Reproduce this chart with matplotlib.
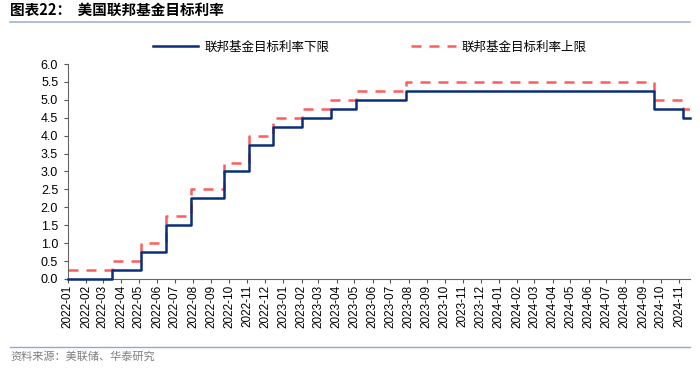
import matplotlib
matplotlib.use("Agg")
import matplotlib.pyplot as plt
import matplotlib.dates as mdates
import pandas as pd

plt.rcParams['font.family'] = ['Liberation Sans', 'Noto Sans CJK SC', 'DejaVu Sans']
CJK = ['Noto Sans CJK SC', 'DejaVu Sans']

# dates when the Fed changed the target range, and the range after each change
change_dates = ['2022-01-01', '2022-03-17', '2022-05-05', '2022-06-16', '2022-07-28',
                '2022-09-22', '2022-11-03', '2022-12-15', '2023-02-02', '2023-03-23',
                '2023-05-04', '2023-07-27', '2024-09-19', '2024-11-08']
lower = [0.00, 0.25, 0.75, 1.50, 2.25, 3.00, 3.75, 4.25, 4.50, 4.75, 5.00, 5.25, 4.75, 4.50]
upper = [0.25, 0.50, 1.00, 1.75, 2.50, 3.25, 4.00, 4.50, 4.75, 5.00, 5.25, 5.50, 5.00, 4.75]
end_date = '2024-11-20'

label_lower = '联邦基金目标利率下限'
label_upper = '联邦基金目标利率上限'

dates = pd.to_datetime(change_dates + [end_date])
lo = lower + [lower[-1]]
up = upper + [upper[-1]]

fig = plt.figure(figsize=(7, 3.68), dpi=100)
ax = fig.add_axes([0.097, 0.242, 0.889, 0.584])

l1, = ax.plot(dates, lo, drawstyle='steps-post', color='#0b2e7a', lw=1.8,
              label=label_lower, clip_on=False, zorder=3)
l2, = ax.plot(dates, up, drawstyle='steps-post', color='#ff5c5c', lw=1.8,
              dashes=(4, 3.2), label=label_upper, zorder=2)

ax.set_ylim(0, 6)
ax.set_yticks([i * 0.5 for i in range(13)])
ax.set_yticklabels([f'{i * 0.5:.1f}' for i in range(13)], fontsize=9)
ax.set_xlim(dates[0], dates[-1])
months = pd.date_range('2022-01-01', '2024-11-01', freq='MS')
ax.set_xticks(months)
ax.xaxis.set_major_formatter(mdates.DateFormatter('%Y-%m'))
ax.tick_params(axis='x', labelrotation=90, labelsize=8.5, length=3, pad=1, color='#555555')
ax.tick_params(axis='y', length=3, pad=4, color='#555555')
for s in ['top', 'right']:
    ax.spines[s].set_visible(False)
for s in ['left', 'bottom']:
    ax.spines[s].set_color('#666666')
    ax.spines[s].set_linewidth(0.8)

fig.legend(handles=[l1, l2], loc='center', bbox_to_anchor=(370 / 700, 1 - 47 / 368),
           ncol=2, frameon=False, handlelength=3.6, columnspacing=6.5, handletextpad=0.5,
           prop={'family': CJK, 'size': 9})

fig.text(10 / 700, 1 - 10 / 368, '图表22：  美国联邦基金目标利率', family=CJK, fontsize=10.5,
         fontweight='bold', va='center', ha='left')
fig.add_artist(plt.Line2D([10 / 700, 690 / 700], [1 - 22 / 368] * 2, color='#9fb4d6', lw=1.2))
fig.add_artist(plt.Line2D([10 / 700, 690 / 700], [1 - 347 / 368] * 2, color='#8eaadb', lw=1.0))
fig.text(10 / 700, 1 - 357 / 368, '资料来源：美联储、华泰研究', family=CJK, fontsize=8,
         color='#7f7f7f', va='center', ha='left')

fig.savefig('out.png', dpi=100)
